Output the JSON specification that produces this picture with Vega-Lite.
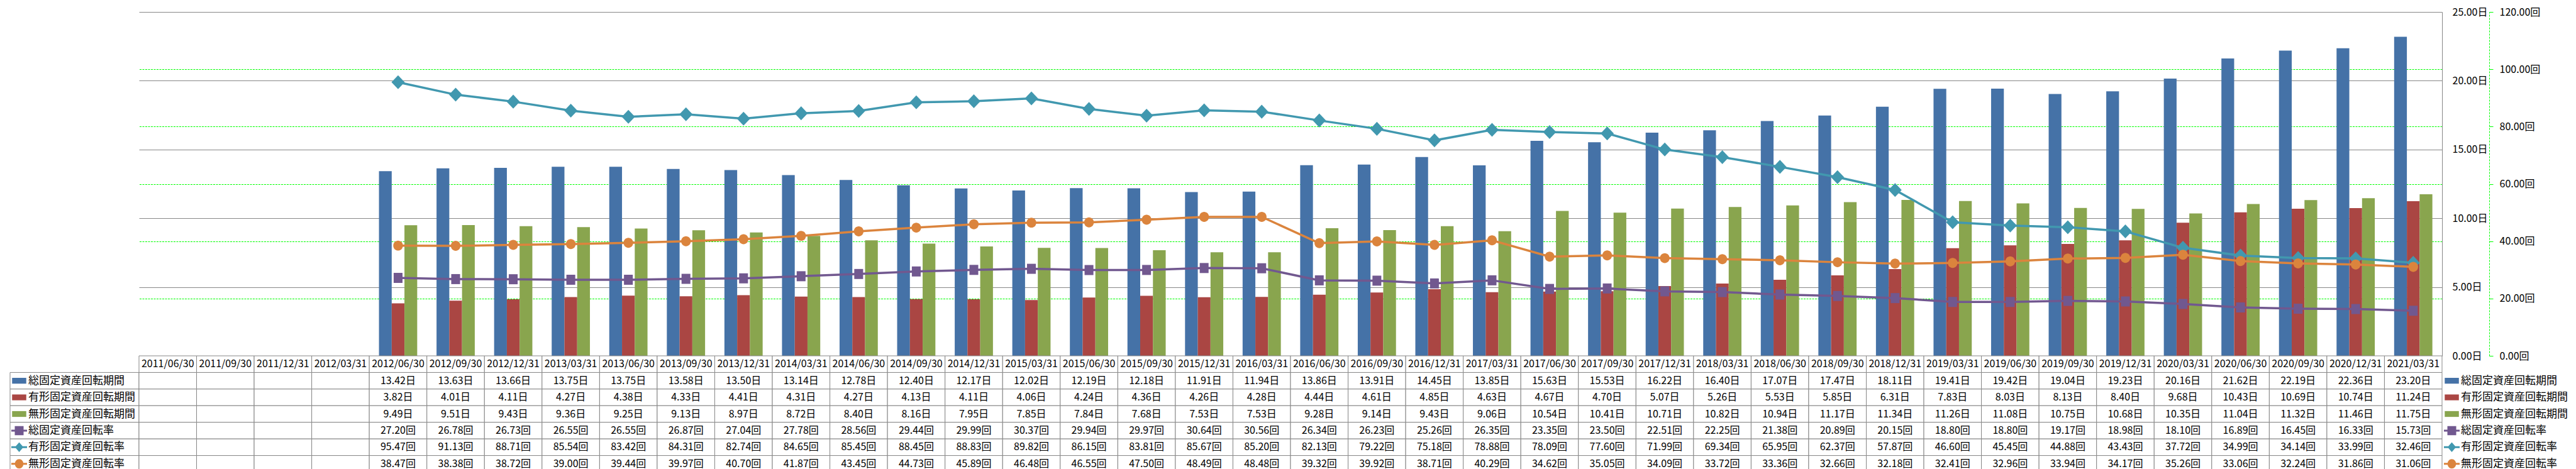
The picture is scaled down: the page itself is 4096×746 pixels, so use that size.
{
"$schema": "https://vega.github.io/schema/vega-lite/v6.json",
"background": "white",
"padding": {"left": 15, "top": 11, "right": 0, "bottom": 0},
"columns": 3,
"spacing": 0,
"bounds": "flush",
"align": "each",
"config": {"view": {"stroke": null, "fill": null}, "font": "Noto Sans CJK JP", "mark": {"invalid": "filter"}},
"resolve": {"scale": {"shape": "independent"}},
"datasets": {"tbl": [
{"d":"2011/06/30","s":"総固定資産回転期間"},{"d":"2011/09/30","s":"総固定資産回転期間"},{"d":"2011/12/31","s":"総固定資産回転期間"},{"d":"2012/03/31","s":"総固定資産回転期間"},
{"d":"2011/06/30","s":"有形固定資産回転期間"},{"d":"2011/09/30","s":"有形固定資産回転期間"},{"d":"2011/12/31","s":"有形固定資産回転期間"},{"d":"2012/03/31","s":"有形固定資産回転期間"},
{"d":"2011/06/30","s":"無形固定資産回転期間"},{"d":"2011/09/30","s":"無形固定資産回転期間"},{"d":"2011/12/31","s":"無形固定資産回転期間"},{"d":"2012/03/31","s":"無形固定資産回転期間"},
{"d":"2011/06/30","s":"総固定資産回転率"},{"d":"2011/09/30","s":"総固定資産回転率"},{"d":"2011/12/31","s":"総固定資産回転率"},{"d":"2012/03/31","s":"総固定資産回転率"},
{"d":"2011/06/30","s":"有形固定資産回転率"},{"d":"2011/09/30","s":"有形固定資産回転率"},{"d":"2011/12/31","s":"有形固定資産回転率"},{"d":"2012/03/31","s":"有形固定資産回転率"},
{"d":"2011/06/30","s":"無形固定資産回転率"},{"d":"2011/09/30","s":"無形固定資産回転率"},{"d":"2011/12/31","s":"無形固定資産回転率"},{"d":"2012/03/31","s":"無形固定資産回転率"},
{"d":"2012/06/30","s":"総固定資産回転期間","v":13.42},{"d":"2012/09/30","s":"総固定資産回転期間","v":13.63},{"d":"2012/12/31","s":"総固定資産回転期間","v":13.66},{"d":"2013/03/31","s":"総固定資産回転期間","v":13.75},{"d":"2013/06/30","s":"総固定資産回転期間","v":13.75},{"d":"2013/09/30","s":"総固定資産回転期間","v":13.58},{"d":"2013/12/31","s":"総固定資産回転期間","v":13.50},{"d":"2014/03/31","s":"総固定資産回転期間","v":13.14},{"d":"2014/06/30","s":"総固定資産回転期間","v":12.78},{"d":"2014/09/30","s":"総固定資産回転期間","v":12.40},{"d":"2014/12/31","s":"総固定資産回転期間","v":12.17},{"d":"2015/03/31","s":"総固定資産回転期間","v":12.02},{"d":"2015/06/30","s":"総固定資産回転期間","v":12.19},{"d":"2015/09/30","s":"総固定資産回転期間","v":12.18},{"d":"2015/12/31","s":"総固定資産回転期間","v":11.91},{"d":"2016/03/31","s":"総固定資産回転期間","v":11.94},{"d":"2016/06/30","s":"総固定資産回転期間","v":13.86},{"d":"2016/09/30","s":"総固定資産回転期間","v":13.91},{"d":"2016/12/31","s":"総固定資産回転期間","v":14.45},{"d":"2017/03/31","s":"総固定資産回転期間","v":13.85},{"d":"2017/06/30","s":"総固定資産回転期間","v":15.63},{"d":"2017/09/30","s":"総固定資産回転期間","v":15.53},{"d":"2017/12/31","s":"総固定資産回転期間","v":16.22},{"d":"2018/03/31","s":"総固定資産回転期間","v":16.40},{"d":"2018/06/30","s":"総固定資産回転期間","v":17.07},{"d":"2018/09/30","s":"総固定資産回転期間","v":17.47},{"d":"2018/12/31","s":"総固定資産回転期間","v":18.11},{"d":"2019/03/31","s":"総固定資産回転期間","v":19.41},{"d":"2019/06/30","s":"総固定資産回転期間","v":19.42},{"d":"2019/09/30","s":"総固定資産回転期間","v":19.04},{"d":"2019/12/31","s":"総固定資産回転期間","v":19.23},{"d":"2020/03/31","s":"総固定資産回転期間","v":20.16},{"d":"2020/06/30","s":"総固定資産回転期間","v":21.62},{"d":"2020/09/30","s":"総固定資産回転期間","v":22.19},{"d":"2020/12/31","s":"総固定資産回転期間","v":22.36},{"d":"2021/03/31","s":"総固定資産回転期間","v":23.20},
{"d":"2012/06/30","s":"有形固定資産回転期間","v":3.82},{"d":"2012/09/30","s":"有形固定資産回転期間","v":4.01},{"d":"2012/12/31","s":"有形固定資産回転期間","v":4.11},{"d":"2013/03/31","s":"有形固定資産回転期間","v":4.27},{"d":"2013/06/30","s":"有形固定資産回転期間","v":4.38},{"d":"2013/09/30","s":"有形固定資産回転期間","v":4.33},{"d":"2013/12/31","s":"有形固定資産回転期間","v":4.41},{"d":"2014/03/31","s":"有形固定資産回転期間","v":4.31},{"d":"2014/06/30","s":"有形固定資産回転期間","v":4.27},{"d":"2014/09/30","s":"有形固定資産回転期間","v":4.13},{"d":"2014/12/31","s":"有形固定資産回転期間","v":4.11},{"d":"2015/03/31","s":"有形固定資産回転期間","v":4.06},{"d":"2015/06/30","s":"有形固定資産回転期間","v":4.24},{"d":"2015/09/30","s":"有形固定資産回転期間","v":4.36},{"d":"2015/12/31","s":"有形固定資産回転期間","v":4.26},{"d":"2016/03/31","s":"有形固定資産回転期間","v":4.28},{"d":"2016/06/30","s":"有形固定資産回転期間","v":4.44},{"d":"2016/09/30","s":"有形固定資産回転期間","v":4.61},{"d":"2016/12/31","s":"有形固定資産回転期間","v":4.85},{"d":"2017/03/31","s":"有形固定資産回転期間","v":4.63},{"d":"2017/06/30","s":"有形固定資産回転期間","v":4.67},{"d":"2017/09/30","s":"有形固定資産回転期間","v":4.70},{"d":"2017/12/31","s":"有形固定資産回転期間","v":5.07},{"d":"2018/03/31","s":"有形固定資産回転期間","v":5.26},{"d":"2018/06/30","s":"有形固定資産回転期間","v":5.53},{"d":"2018/09/30","s":"有形固定資産回転期間","v":5.85},{"d":"2018/12/31","s":"有形固定資産回転期間","v":6.31},{"d":"2019/03/31","s":"有形固定資産回転期間","v":7.83},{"d":"2019/06/30","s":"有形固定資産回転期間","v":8.03},{"d":"2019/09/30","s":"有形固定資産回転期間","v":8.13},{"d":"2019/12/31","s":"有形固定資産回転期間","v":8.40},{"d":"2020/03/31","s":"有形固定資産回転期間","v":9.68},{"d":"2020/06/30","s":"有形固定資産回転期間","v":10.43},{"d":"2020/09/30","s":"有形固定資産回転期間","v":10.69},{"d":"2020/12/31","s":"有形固定資産回転期間","v":10.74},{"d":"2021/03/31","s":"有形固定資産回転期間","v":11.24},
{"d":"2012/06/30","s":"無形固定資産回転期間","v":9.49},{"d":"2012/09/30","s":"無形固定資産回転期間","v":9.51},{"d":"2012/12/31","s":"無形固定資産回転期間","v":9.43},{"d":"2013/03/31","s":"無形固定資産回転期間","v":9.36},{"d":"2013/06/30","s":"無形固定資産回転期間","v":9.25},{"d":"2013/09/30","s":"無形固定資産回転期間","v":9.13},{"d":"2013/12/31","s":"無形固定資産回転期間","v":8.97},{"d":"2014/03/31","s":"無形固定資産回転期間","v":8.72},{"d":"2014/06/30","s":"無形固定資産回転期間","v":8.40},{"d":"2014/09/30","s":"無形固定資産回転期間","v":8.16},{"d":"2014/12/31","s":"無形固定資産回転期間","v":7.95},{"d":"2015/03/31","s":"無形固定資産回転期間","v":7.85},{"d":"2015/06/30","s":"無形固定資産回転期間","v":7.84},{"d":"2015/09/30","s":"無形固定資産回転期間","v":7.68},{"d":"2015/12/31","s":"無形固定資産回転期間","v":7.53},{"d":"2016/03/31","s":"無形固定資産回転期間","v":7.53},{"d":"2016/06/30","s":"無形固定資産回転期間","v":9.28},{"d":"2016/09/30","s":"無形固定資産回転期間","v":9.14},{"d":"2016/12/31","s":"無形固定資産回転期間","v":9.43},{"d":"2017/03/31","s":"無形固定資産回転期間","v":9.06},{"d":"2017/06/30","s":"無形固定資産回転期間","v":10.54},{"d":"2017/09/30","s":"無形固定資産回転期間","v":10.41},{"d":"2017/12/31","s":"無形固定資産回転期間","v":10.71},{"d":"2018/03/31","s":"無形固定資産回転期間","v":10.82},{"d":"2018/06/30","s":"無形固定資産回転期間","v":10.94},{"d":"2018/09/30","s":"無形固定資産回転期間","v":11.17},{"d":"2018/12/31","s":"無形固定資産回転期間","v":11.34},{"d":"2019/03/31","s":"無形固定資産回転期間","v":11.26},{"d":"2019/06/30","s":"無形固定資産回転期間","v":11.08},{"d":"2019/09/30","s":"無形固定資産回転期間","v":10.75},{"d":"2019/12/31","s":"無形固定資産回転期間","v":10.68},{"d":"2020/03/31","s":"無形固定資産回転期間","v":10.35},{"d":"2020/06/30","s":"無形固定資産回転期間","v":11.04},{"d":"2020/09/30","s":"無形固定資産回転期間","v":11.32},{"d":"2020/12/31","s":"無形固定資産回転期間","v":11.46},{"d":"2021/03/31","s":"無形固定資産回転期間","v":11.75},
{"d":"2012/06/30","s":"総固定資産回転率","v":27.20},{"d":"2012/09/30","s":"総固定資産回転率","v":26.78},{"d":"2012/12/31","s":"総固定資産回転率","v":26.73},{"d":"2013/03/31","s":"総固定資産回転率","v":26.55},{"d":"2013/06/30","s":"総固定資産回転率","v":26.55},{"d":"2013/09/30","s":"総固定資産回転率","v":26.87},{"d":"2013/12/31","s":"総固定資産回転率","v":27.04},{"d":"2014/03/31","s":"総固定資産回転率","v":27.78},{"d":"2014/06/30","s":"総固定資産回転率","v":28.56},{"d":"2014/09/30","s":"総固定資産回転率","v":29.44},{"d":"2014/12/31","s":"総固定資産回転率","v":29.99},{"d":"2015/03/31","s":"総固定資産回転率","v":30.37},{"d":"2015/06/30","s":"総固定資産回転率","v":29.94},{"d":"2015/09/30","s":"総固定資産回転率","v":29.97},{"d":"2015/12/31","s":"総固定資産回転率","v":30.64},{"d":"2016/03/31","s":"総固定資産回転率","v":30.56},{"d":"2016/06/30","s":"総固定資産回転率","v":26.34},{"d":"2016/09/30","s":"総固定資産回転率","v":26.23},{"d":"2016/12/31","s":"総固定資産回転率","v":25.26},{"d":"2017/03/31","s":"総固定資産回転率","v":26.35},{"d":"2017/06/30","s":"総固定資産回転率","v":23.35},{"d":"2017/09/30","s":"総固定資産回転率","v":23.50},{"d":"2017/12/31","s":"総固定資産回転率","v":22.51},{"d":"2018/03/31","s":"総固定資産回転率","v":22.25},{"d":"2018/06/30","s":"総固定資産回転率","v":21.38},{"d":"2018/09/30","s":"総固定資産回転率","v":20.89},{"d":"2018/12/31","s":"総固定資産回転率","v":20.15},{"d":"2019/03/31","s":"総固定資産回転率","v":18.80},{"d":"2019/06/30","s":"総固定資産回転率","v":18.80},{"d":"2019/09/30","s":"総固定資産回転率","v":19.17},{"d":"2019/12/31","s":"総固定資産回転率","v":18.98},{"d":"2020/03/31","s":"総固定資産回転率","v":18.10},{"d":"2020/06/30","s":"総固定資産回転率","v":16.89},{"d":"2020/09/30","s":"総固定資産回転率","v":16.45},{"d":"2020/12/31","s":"総固定資産回転率","v":16.33},{"d":"2021/03/31","s":"総固定資産回転率","v":15.73},
{"d":"2012/06/30","s":"有形固定資産回転率","v":95.47},{"d":"2012/09/30","s":"有形固定資産回転率","v":91.13},{"d":"2012/12/31","s":"有形固定資産回転率","v":88.71},{"d":"2013/03/31","s":"有形固定資産回転率","v":85.54},{"d":"2013/06/30","s":"有形固定資産回転率","v":83.42},{"d":"2013/09/30","s":"有形固定資産回転率","v":84.31},{"d":"2013/12/31","s":"有形固定資産回転率","v":82.74},{"d":"2014/03/31","s":"有形固定資産回転率","v":84.65},{"d":"2014/06/30","s":"有形固定資産回転率","v":85.45},{"d":"2014/09/30","s":"有形固定資産回転率","v":88.45},{"d":"2014/12/31","s":"有形固定資産回転率","v":88.83},{"d":"2015/03/31","s":"有形固定資産回転率","v":89.82},{"d":"2015/06/30","s":"有形固定資産回転率","v":86.15},{"d":"2015/09/30","s":"有形固定資産回転率","v":83.81},{"d":"2015/12/31","s":"有形固定資産回転率","v":85.67},{"d":"2016/03/31","s":"有形固定資産回転率","v":85.20},{"d":"2016/06/30","s":"有形固定資産回転率","v":82.13},{"d":"2016/09/30","s":"有形固定資産回転率","v":79.22},{"d":"2016/12/31","s":"有形固定資産回転率","v":75.18},{"d":"2017/03/31","s":"有形固定資産回転率","v":78.88},{"d":"2017/06/30","s":"有形固定資産回転率","v":78.09},{"d":"2017/09/30","s":"有形固定資産回転率","v":77.60},{"d":"2017/12/31","s":"有形固定資産回転率","v":71.99},{"d":"2018/03/31","s":"有形固定資産回転率","v":69.34},{"d":"2018/06/30","s":"有形固定資産回転率","v":65.95},{"d":"2018/09/30","s":"有形固定資産回転率","v":62.37},{"d":"2018/12/31","s":"有形固定資産回転率","v":57.87},{"d":"2019/03/31","s":"有形固定資産回転率","v":46.60},{"d":"2019/06/30","s":"有形固定資産回転率","v":45.45},{"d":"2019/09/30","s":"有形固定資産回転率","v":44.88},{"d":"2019/12/31","s":"有形固定資産回転率","v":43.43},{"d":"2020/03/31","s":"有形固定資産回転率","v":37.72},{"d":"2020/06/30","s":"有形固定資産回転率","v":34.99},{"d":"2020/09/30","s":"有形固定資産回転率","v":34.14},{"d":"2020/12/31","s":"有形固定資産回転率","v":33.99},{"d":"2021/03/31","s":"有形固定資産回転率","v":32.46},
{"d":"2012/06/30","s":"無形固定資産回転率","v":38.47},{"d":"2012/09/30","s":"無形固定資産回転率","v":38.38},{"d":"2012/12/31","s":"無形固定資産回転率","v":38.72},{"d":"2013/03/31","s":"無形固定資産回転率","v":39.00},{"d":"2013/06/30","s":"無形固定資産回転率","v":39.44},{"d":"2013/09/30","s":"無形固定資産回転率","v":39.97},{"d":"2013/12/31","s":"無形固定資産回転率","v":40.70},{"d":"2014/03/31","s":"無形固定資産回転率","v":41.87},{"d":"2014/06/30","s":"無形固定資産回転率","v":43.45},{"d":"2014/09/30","s":"無形固定資産回転率","v":44.73},{"d":"2014/12/31","s":"無形固定資産回転率","v":45.89},{"d":"2015/03/31","s":"無形固定資産回転率","v":46.48},{"d":"2015/06/30","s":"無形固定資産回転率","v":46.55},{"d":"2015/09/30","s":"無形固定資産回転率","v":47.50},{"d":"2015/12/31","s":"無形固定資産回転率","v":48.49},{"d":"2016/03/31","s":"無形固定資産回転率","v":48.48},{"d":"2016/06/30","s":"無形固定資産回転率","v":39.32},{"d":"2016/09/30","s":"無形固定資産回転率","v":39.92},{"d":"2016/12/31","s":"無形固定資産回転率","v":38.71},{"d":"2017/03/31","s":"無形固定資産回転率","v":40.29},{"d":"2017/06/30","s":"無形固定資産回転率","v":34.62},{"d":"2017/09/30","s":"無形固定資産回転率","v":35.05},{"d":"2017/12/31","s":"無形固定資産回転率","v":34.09},{"d":"2018/03/31","s":"無形固定資産回転率","v":33.72},{"d":"2018/06/30","s":"無形固定資産回転率","v":33.36},{"d":"2018/09/30","s":"無形固定資産回転率","v":32.66},{"d":"2018/12/31","s":"無形固定資産回転率","v":32.18},{"d":"2019/03/31","s":"無形固定資産回転率","v":32.41},{"d":"2019/06/30","s":"無形固定資産回転率","v":32.96},{"d":"2019/09/30","s":"無形固定資産回転率","v":33.94},{"d":"2019/12/31","s":"無形固定資産回転率","v":34.17},{"d":"2020/03/31","s":"無形固定資産回転率","v":35.26},{"d":"2020/06/30","s":"無形固定資産回転率","v":33.06},{"d":"2020/09/30","s":"無形固定資産回転率","v":32.24},{"d":"2020/12/31","s":"無形固定資産回転率","v":31.86},{"d":"2021/03/31","s":"無形固定資産回転率","v":31.06}
]},
"concat": [
  {"width": 205, "height": 547, "data": {"values": []}, "mark": "point", "encoding": {}},
  {"width": 3662, "height": 547, "data": {"name": "tbl"},
   "resolve": {"scale": {"y": "independent"}},
   "layer": [
    {"transform": [{"filter": {"field": "s", "oneOf": ["総固定資産回転期間","有形固定資産回転期間","無形固定資産回転期間"]}}, {"filter": "isValid(datum.v)"}],
     "mark": {"type": "bar"},
     "encoding": {
       "x": {"field": "d", "type": "nominal", "axis": null, "scale": {"domain": ["2011/06/30","2011/09/30","2011/12/31","2012/03/31","2012/06/30","2012/09/30","2012/12/31","2013/03/31","2013/06/30","2013/09/30","2013/12/31","2014/03/31","2014/06/30","2014/09/30","2014/12/31","2015/03/31","2015/06/30","2015/09/30","2015/12/31","2016/03/31","2016/06/30","2016/09/30","2016/12/31","2017/03/31","2017/06/30","2017/09/30","2017/12/31","2018/03/31","2018/06/30","2018/09/30","2018/12/31","2019/03/31","2019/06/30","2019/09/30","2019/12/31","2020/03/31","2020/06/30","2020/09/30","2020/12/31","2021/03/31"], "paddingInner": 0.336, "paddingOuter": 0.168}},
       "xOffset": {"field": "s", "type": "nominal", "scale": {"domain": ["総固定資産回転期間","有形固定資産回転期間","無形固定資産回転期間"], "paddingInner": 0, "paddingOuter": 0}},
       "y": {"field": "v", "type": "quantitative", "scale": {"domain": [0, 25], "nice": false},
             "axis": {"orient": "right", "values": [0,5,10,15,20,25], "labelExpr": "format(datum.value, '.2f') + '日'", "labelAlign": "left", "labelBaseline": "middle", "labelPadding": 16, "ticks": false, "tickSize": 0, "domain": true, "domainColor": "#878787", "domainWidth": 1, "grid": true, "gridColor": "#878787", "gridWidth": 1, "title": null, "labelFontSize": 16, "labelColor": "#000000", "labelFont": "Noto Sans CJK JP", "labelOverlap": false, "labelFlush": false}},
       "color": {"field": "s", "type": "nominal", "legend": null, "scale": {"domain": ["総固定資産回転期間","有形固定資産回転期間","無形固定資産回転期間","総固定資産回転率","有形固定資産回転率","無形固定資産回転率"], "range": ["#4572A7","#AA4643","#89A54E","#71588F","#4198AF","#DB843D"]}}
     }},
    {"transform": [{"filter": {"field": "s", "oneOf": ["総固定資産回転率","有形固定資産回転率","無形固定資産回転率"]}}, {"filter": "isValid(datum.v)"}],
     "encoding": {
       "x": {"field": "d", "type": "nominal", "axis": null},
       "y": {"field": "v", "type": "quantitative", "scale": {"domain": [0, 120], "nice": false},
             "axis": {"orient": "right", "offset": 75, "values": [0,20,40,60,80,100,120], "labelExpr": "format(datum.value, '.2f') + '回'", "labelAlign": "left", "labelBaseline": "middle", "labelPadding": 10, "ticks": true, "tickSize": 6, "tickColor": "#00FF00", "tickWidth": 1, "domain": true, "domainColor": "#00FF00", "domainDash": [3, 2], "domainWidth": 1, "grid": true, "gridColor": "#00FF00", "gridDash": [3, 1.5], "gridWidth": 1, "gridOpacity": {"condition": {"test": "datum.value == 0 || datum.value == 120", "value": 0}, "value": 1}, "title": null, "labelFontSize": 16, "labelColor": "#000000", "labelFont": "Noto Sans CJK JP", "labelOverlap": false, "labelFlush": false}},
       "color": {"field": "s", "type": "nominal", "legend": null}
     },
     "layer": [
       {"mark": {"type": "line", "strokeWidth": 3.5}},
       {"mark": {"type": "point", "filled": true, "opacity": 1, "size": 441},
        "encoding": {"shape": {"field": "s", "type": "nominal", "legend": null, "scale": {"domain": ["総固定資産回転率","有形固定資産回転率","無形固定資産回転率"], "range": ["M-0.67,-0.76H0.67V0.76H-0.67Z", "M0,-1.05L1,0L0,1.05L-1,0Z", "M-0.73,0A0.73,0.76,0,1,1,0.73,0A0.73,0.76,0,1,1,-0.73,0Z"]}}}}
     ]}
   ]},
  {"width": 200, "height": 547, "data": {"values": []}, "mark": "point", "encoding": {}},
  {"width": 205, "height": 185, "data": {"name": "tbl"},
   "transform": [{"filter": {"field": "d", "equal": "2011/06/30"}}],
   "encoding": {"y": {"field": "s", "type": "nominal", "axis": null, "scale": {"domain": ["hdr","総固定資産回転期間","有形固定資産回転期間","無形固定資産回転期間","総固定資産回転率","有形固定資産回転率","無形固定資産回転率"], "paddingInner": 0, "paddingOuter": 0}}},
   "layer": [
     {"mark": {"type": "rect", "fill": "white", "stroke": "#878787", "strokeWidth": 1}},
     {"mark": {"type": "point", "filled": true, "opacity": 1, "size": 625},
      "encoding": {
        "x": {"datum": 0, "type": "quantitative", "axis": null, "scale": {"domain": [-1, 13.138], "nice": false, "zero": false}},
        "shape": {"field": "s", "type": "nominal", "legend": null, "scale": {"domain": ["総固定資産回転期間","有形固定資産回転期間","無形固定資産回転期間","総固定資産回転率","有形固定資産回転率","無形固定資産回転率"], "range": ["M-0.9,-0.37H0.9V0.37H-0.9Z","M-0.9,-0.37H0.9V0.37H-0.9Z","M-0.9,-0.37H0.9V0.37H-0.9Z","M-1,-0.12H1V0.12H-1Z M-0.56,-0.58H0.56V0.58H-0.56Z","M-1,-0.12H1V0.12H-1Z M0,-0.62L0.54,0L0,0.62L-0.54,0Z","M-1,-0.12H1V0.12H-1Z M-0.54,0A0.54,0.6,0,1,1,0.54,0A0.54,0.6,0,1,1,-0.54,0Z"]}},
        "color": {"field": "s", "type": "nominal", "legend": null}
      }},
     {"mark": {"type": "text", "align": "left", "baseline": "middle", "fontSize": 17, "color": "#000000", "font": "Noto Sans CJK JP"},
      "encoding": {"x": {"datum": 1, "type": "quantitative"}, "text": {"field": "s"}}}
   ]},
  {"width": 3662, "height": 185, "data": {"name": "tbl"},
   "encoding": {
     "x": {"field": "d", "type": "nominal", "axis": null, "scale": {"domain": ["2011/06/30","2011/09/30","2011/12/31","2012/03/31","2012/06/30","2012/09/30","2012/12/31","2013/03/31","2013/06/30","2013/09/30","2013/12/31","2014/03/31","2014/06/30","2014/09/30","2014/12/31","2015/03/31","2015/06/30","2015/09/30","2015/12/31","2016/03/31","2016/06/30","2016/09/30","2016/12/31","2017/03/31","2017/06/30","2017/09/30","2017/12/31","2018/03/31","2018/06/30","2018/09/30","2018/12/31","2019/03/31","2019/06/30","2019/09/30","2019/12/31","2020/03/31","2020/06/30","2020/09/30","2020/12/31","2021/03/31"], "paddingInner": 0, "paddingOuter": 0}}
   },
   "layer": [
     {"mark": {"type": "rect", "fill": "white", "stroke": "#878787", "strokeWidth": 1},
      "encoding": {"y": {"field": "s", "type": "nominal", "axis": null, "scale": {"domain": ["hdr","総固定資産回転期間","有形固定資産回転期間","無形固定資産回転期間","総固定資産回転率","有形固定資産回転率","無形固定資産回転率"], "paddingInner": 0, "paddingOuter": 0}}}},
     {"transform": [{"filter": {"field": "s", "equal": "総固定資産回転期間"}}],
      "mark": {"type": "rect", "fill": "white", "stroke": "#878787", "strokeWidth": 1},
      "encoding": {"y": {"datum": "hdr", "type": "nominal"}}},
     {"transform": [{"filter": {"field": "s", "equal": "総固定資産回転期間"}}],
      "mark": {"type": "text", "align": "center", "baseline": "middle", "fontSize": 16, "color": "#000000", "font": "Noto Sans CJK JP"},
      "encoding": {"y": {"datum": "hdr", "type": "nominal"}, "text": {"field": "d"}}},
     {"transform": [{"filter": "isValid(datum.v)"}, {"calculate": "format(datum.v, '.2f') + (indexof(datum.s, '期間') >= 0 ? '日' : '回')", "as": "t"}],
      "mark": {"type": "text", "align": "center", "baseline": "middle", "fontSize": 16, "color": "#000000", "font": "Noto Sans CJK JP"},
      "encoding": {"y": {"field": "s", "type": "nominal"}, "text": {"field": "t"}}}
   ]},
  {"width": 200, "height": 185, "data": {"name": "tbl"},
   "transform": [{"filter": {"field": "d", "equal": "2011/06/30"}}],
   "encoding": {"y": {"field": "s", "type": "nominal", "axis": null, "scale": {"domain": ["hdr","総固定資産回転期間","有形固定資産回転期間","無形固定資産回転期間","総固定資産回転率","有形固定資産回転率","無形固定資産回転率"], "paddingInner": 0, "paddingOuter": 0}}},
   "layer": [
     {"mark": {"type": "point", "filled": true, "opacity": 1, "size": 625},
      "encoding": {
        "x": {"datum": 0, "type": "quantitative", "axis": null, "scale": {"domain": [-1.07, 12.72], "nice": false, "zero": false}},
        "shape": {"field": "s", "type": "nominal", "legend": null, "scale": {"domain": ["総固定資産回転期間","有形固定資産回転期間","無形固定資産回転期間","総固定資産回転率","有形固定資産回転率","無形固定資産回転率"], "range": ["M-0.9,-0.37H0.9V0.37H-0.9Z","M-0.9,-0.37H0.9V0.37H-0.9Z","M-0.9,-0.37H0.9V0.37H-0.9Z","M-1,-0.12H1V0.12H-1Z M-0.56,-0.58H0.56V0.58H-0.56Z","M-1,-0.12H1V0.12H-1Z M0,-0.62L0.54,0L0,0.62L-0.54,0Z","M-1,-0.12H1V0.12H-1Z M-0.54,0A0.54,0.6,0,1,1,0.54,0A0.54,0.6,0,1,1,-0.54,0Z"]}},
        "color": {"field": "s", "type": "nominal", "legend": null}
      }},
     {"mark": {"type": "text", "align": "left", "baseline": "middle", "fontSize": 17, "color": "#000000", "font": "Noto Sans CJK JP"},
      "encoding": {"x": {"datum": 1, "type": "quantitative"}, "text": {"field": "s"}}}
   ]}
]
}
